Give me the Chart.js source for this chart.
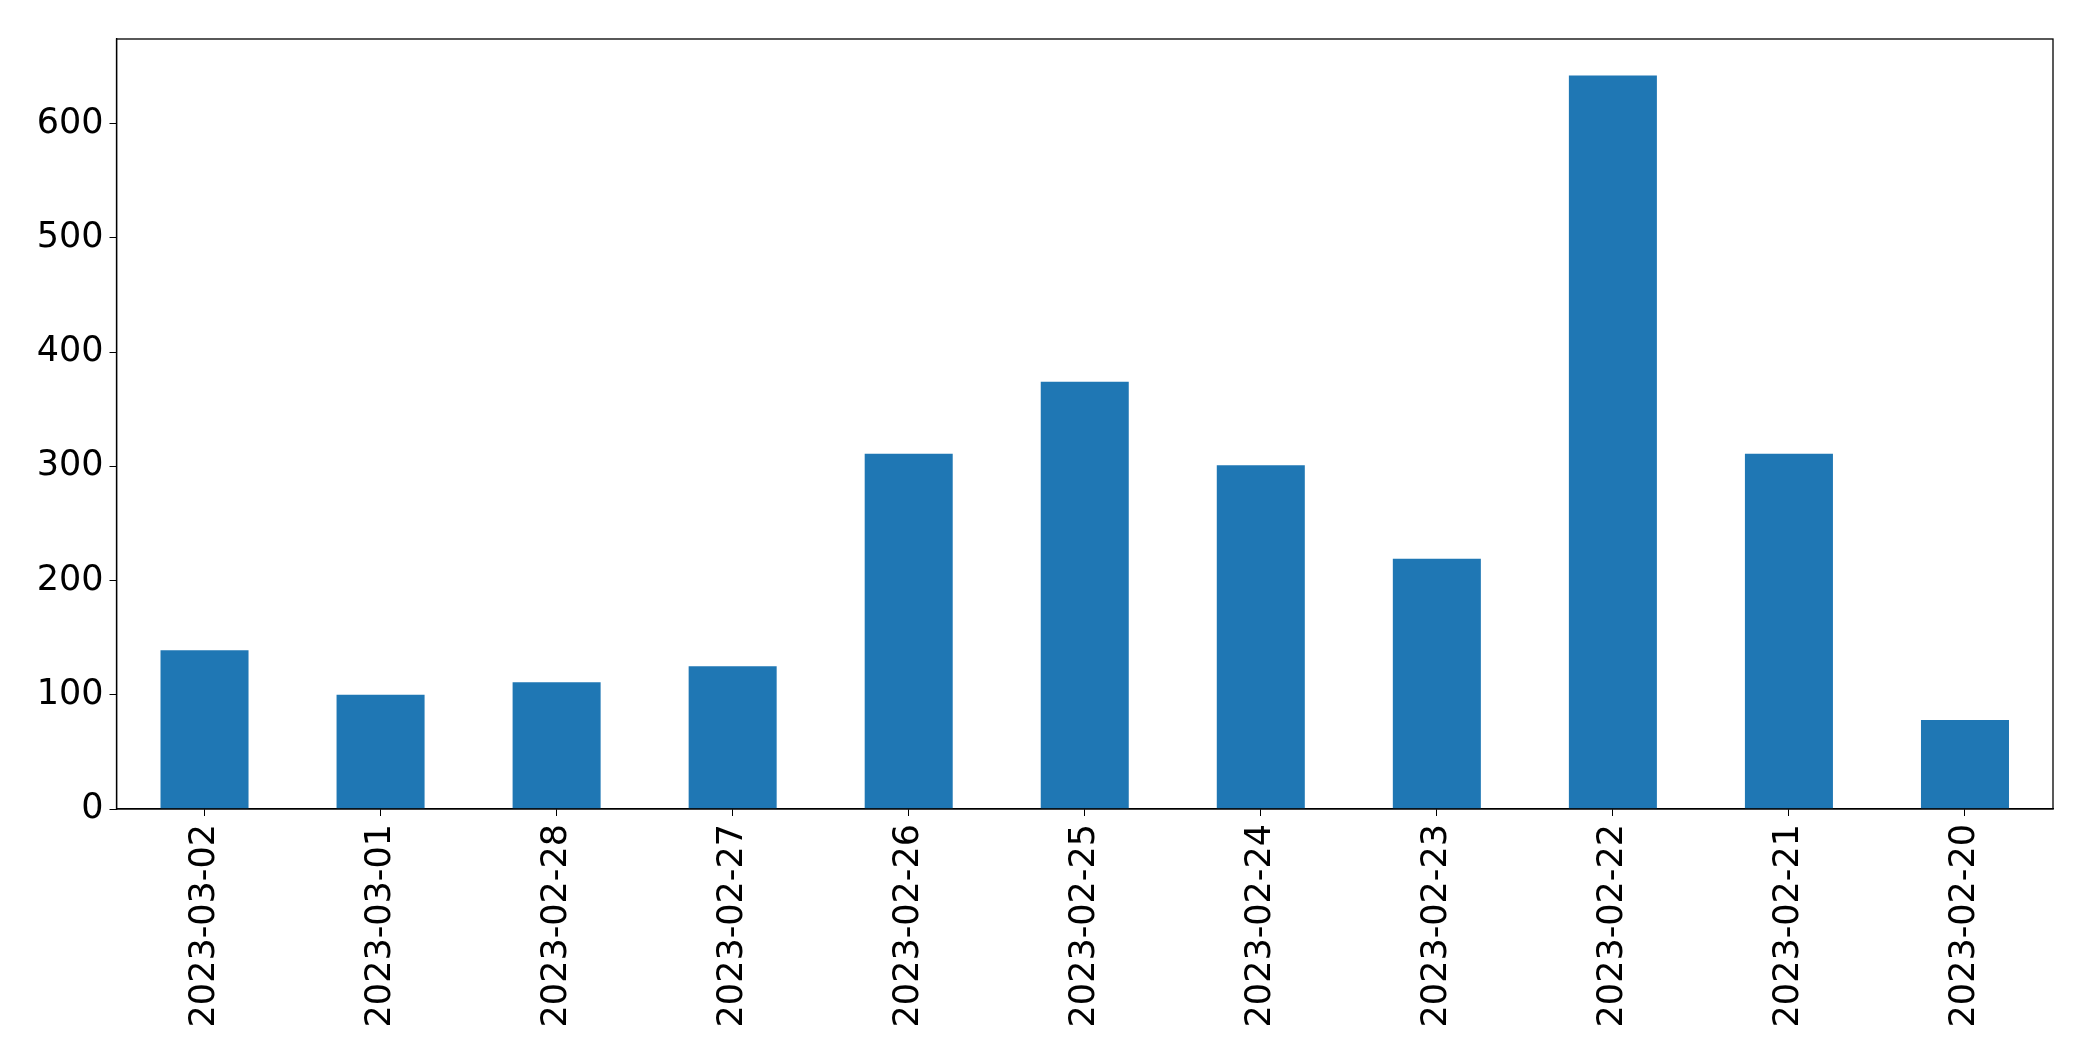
<!DOCTYPE html>
<html>
<head>
<meta charset="utf-8">
<script src="https://cdn.jsdelivr.net/npm/chart.js@4/dist/chart.umd.min.js"></script>
<style>
  html, body { margin: 0; padding: 0; background: #fff; }
  #wrap { width: 2093px; height: 1061px; }
</style>
</head>
<body>
<div id="wrap"><canvas id="chart" width="2093" height="1061"></canvas></div>
<script>
const dates = ["2023-03-02", "2023-03-01", "2023-02-28", "2023-02-27", "2023-02-26", "2023-02-25",
  "2023-02-24", "2023-02-23", "2023-02-22", "2023-02-21", "2023-02-20"];
const counts = [139, 100, 111, 125, 311, 374, 301, 219, 642, 311, 78];
const yTicks = [0, 100, 200, 300, 400, 500, 600];

const tickFont = { family: "DejaVu Sans", size: 35 };

// draws the top and right edges of the axes box
const frame = {
  id: "frame",
  afterDraw(chart) {
    const { ctx, chartArea } = chart;
    ctx.save();
    ctx.strokeStyle = "#000";
    ctx.lineWidth = 1.3;
    ctx.strokeRect(chartArea.left, chartArea.top, chartArea.right - chartArea.left, chartArea.bottom - chartArea.top);
    ctx.restore();
  },
};

new Chart(document.getElementById("chart"), {
  type: "bar",
  data: {
    labels: dates,
    datasets: [{
      data: counts,
      backgroundColor: "#1f77b4",
      borderWidth: 0,
      categoryPercentage: 1,
      barPercentage: 0.5,
    }],
  },
  options: {
    responsive: false,
    animation: false,
    layout: { padding: { top: 39, right: 40, left: 0, bottom: 0 } },
    plugins: { legend: { display: false }, tooltip: { enabled: false } },
    scales: {
      x: {
        grid: { drawOnChartArea: false, drawTicks: true, tickLength: 7, color: "#000", offset: false },
        border: { color: "#000", width: 1.3 },
        ticks: { color: "#000", font: tickFont, minRotation: 90, maxRotation: 90, padding: 8 },
        afterFit(scale) { scale.height = 252; },
      },
      y: {
        min: 0,
        max: 674,
        grid: { drawOnChartArea: false, drawTicks: true, tickLength: 7, color: "#000" },
        border: { color: "#000", width: 1.3 },
        ticks: { color: "#000", font: tickFont, padding: 6, stepSize: 100 },
        afterBuildTicks(scale) { scale.ticks = yTicks.map((v) => ({ value: v })); },
        afterFit(scale) { scale.width = 116.5; },
      },
    },
  },
  plugins: [frame],
});
</script>
</body>
</html>
